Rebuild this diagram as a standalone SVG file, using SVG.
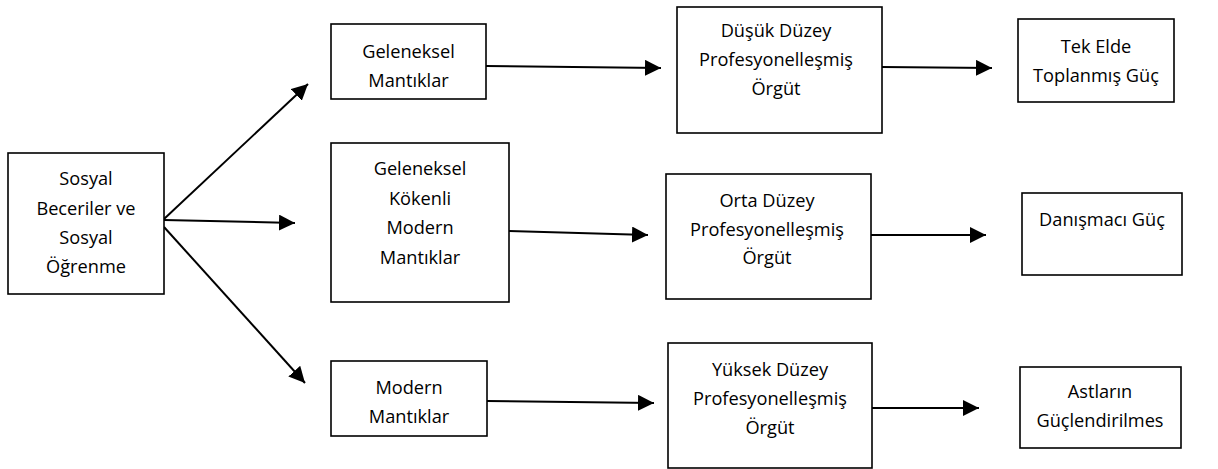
<svg xmlns="http://www.w3.org/2000/svg" width="1218" height="469" viewBox="0 0 1218 469">
<style>
.box{fill:#fff;stroke:#000;stroke-width:1.6}
.t{font-family:"Open Sans","Liberation Sans",sans-serif;font-size:18.2px;fill:#000;text-anchor:middle}
.c{fill:none;stroke:#000;stroke-width:2}
</style>
<defs>
<marker id="ah" markerUnits="userSpaceOnUse" viewBox="0 0 16 16" refX="16" refY="8" markerWidth="16" markerHeight="16" orient="auto">
<path d="M0,0 L16,8 L0,16 Z" fill="#000"/>
</marker>
</defs>
<rect width="1218" height="469" fill="#fff"/>
<g id="connectors">
<line class="c" x1="164" y1="219" x2="308" y2="84" marker-end="url(#ah)"/>
<line class="c" x1="164" y1="220" x2="295" y2="223" marker-end="url(#ah)"/>
<line class="c" x1="164" y1="227" x2="305" y2="383" marker-end="url(#ah)"/>
<line class="c" x1="486" y1="66" x2="661" y2="68" marker-end="url(#ah)"/>
<line class="c" x1="509" y1="231" x2="648" y2="235" marker-end="url(#ah)"/>
<line class="c" x1="487" y1="401" x2="654" y2="403" marker-end="url(#ah)"/>
<line class="c" x1="882" y1="67" x2="992" y2="68" marker-end="url(#ah)"/>
<line class="c" x1="871" y1="235" x2="986" y2="235" marker-end="url(#ah)"/>
<line class="c" x1="870" y1="408" x2="979" y2="408" marker-end="url(#ah)"/>
</g>
<g id="n-sosyal">
<rect class="box" x="8" y="153" width="156" height="141"/>
<text class="t" x="86" y="184.5">Sosyal</text>
<text class="t" x="86" y="215">Beceriler ve</text>
<text class="t" x="86" y="244">Sosyal</text>
<text class="t" x="86" y="273">Öğrenme</text>
</g>
<g id="n-geleneksel">
<rect class="box" x="331" y="24" width="155" height="75"/>
<text class="t" x="408.5" y="58">Geleneksel</text>
<text class="t" x="408.5" y="87">Mantıklar</text>
</g>
<g id="n-gelmodern">
<rect class="box" x="331" y="143" width="178" height="159"/>
<text class="t" x="420" y="175">Geleneksel</text>
<text class="t" x="420" y="204.5">Kökenli</text>
<text class="t" x="420" y="234">Modern</text>
<text class="t" x="420" y="263.5">Mantıklar</text>
</g>
<g id="n-modern">
<rect class="box" x="331" y="361" width="156" height="75"/>
<text class="t" x="409" y="394">Modern</text>
<text class="t" x="409" y="423">Mantıklar</text>
</g>
<g id="n-dusuk">
<rect class="box" x="677" y="7" width="205" height="126"/>
<text class="t" x="776" y="37">Düşük Düzey</text>
<text class="t" x="776" y="66">Profesyonelleşmiş</text>
<text class="t" x="776" y="95">Örgüt</text>
</g>
<g id="n-orta">
<rect class="box" x="666" y="174" width="205" height="125"/>
<text class="t" x="767" y="207">Orta Düzey</text>
<text class="t" x="767" y="236">Profesyonelleşmiş</text>
<text class="t" x="767" y="264">Örgüt</text>
</g>
<g id="n-yuksek">
<rect class="box" x="668" y="343" width="204" height="125"/>
<text class="t" x="770" y="376">Yüksek Düzey</text>
<text class="t" x="770" y="405">Profesyonelleşmiş</text>
<text class="t" x="770" y="434">Örgüt</text>
</g>
<g id="n-tek">
<rect class="box" x="1018" y="19" width="156" height="83"/>
<text class="t" x="1096" y="53">Tek Elde</text>
<text class="t" x="1096" y="82">Toplanmış Güç</text>
</g>
<g id="n-danisma">
<rect class="box" x="1022" y="193" width="160" height="82"/>
<text class="t" x="1102" y="226">Danışmacı Güç</text>
</g>
<g id="n-astlar">
<rect class="box" x="1020" y="367" width="161" height="81"/>
<text class="t" x="1100" y="398">Astların</text>
<text class="t" x="1100" y="427">Güçlendirilmes</text>
</g>
</svg>
